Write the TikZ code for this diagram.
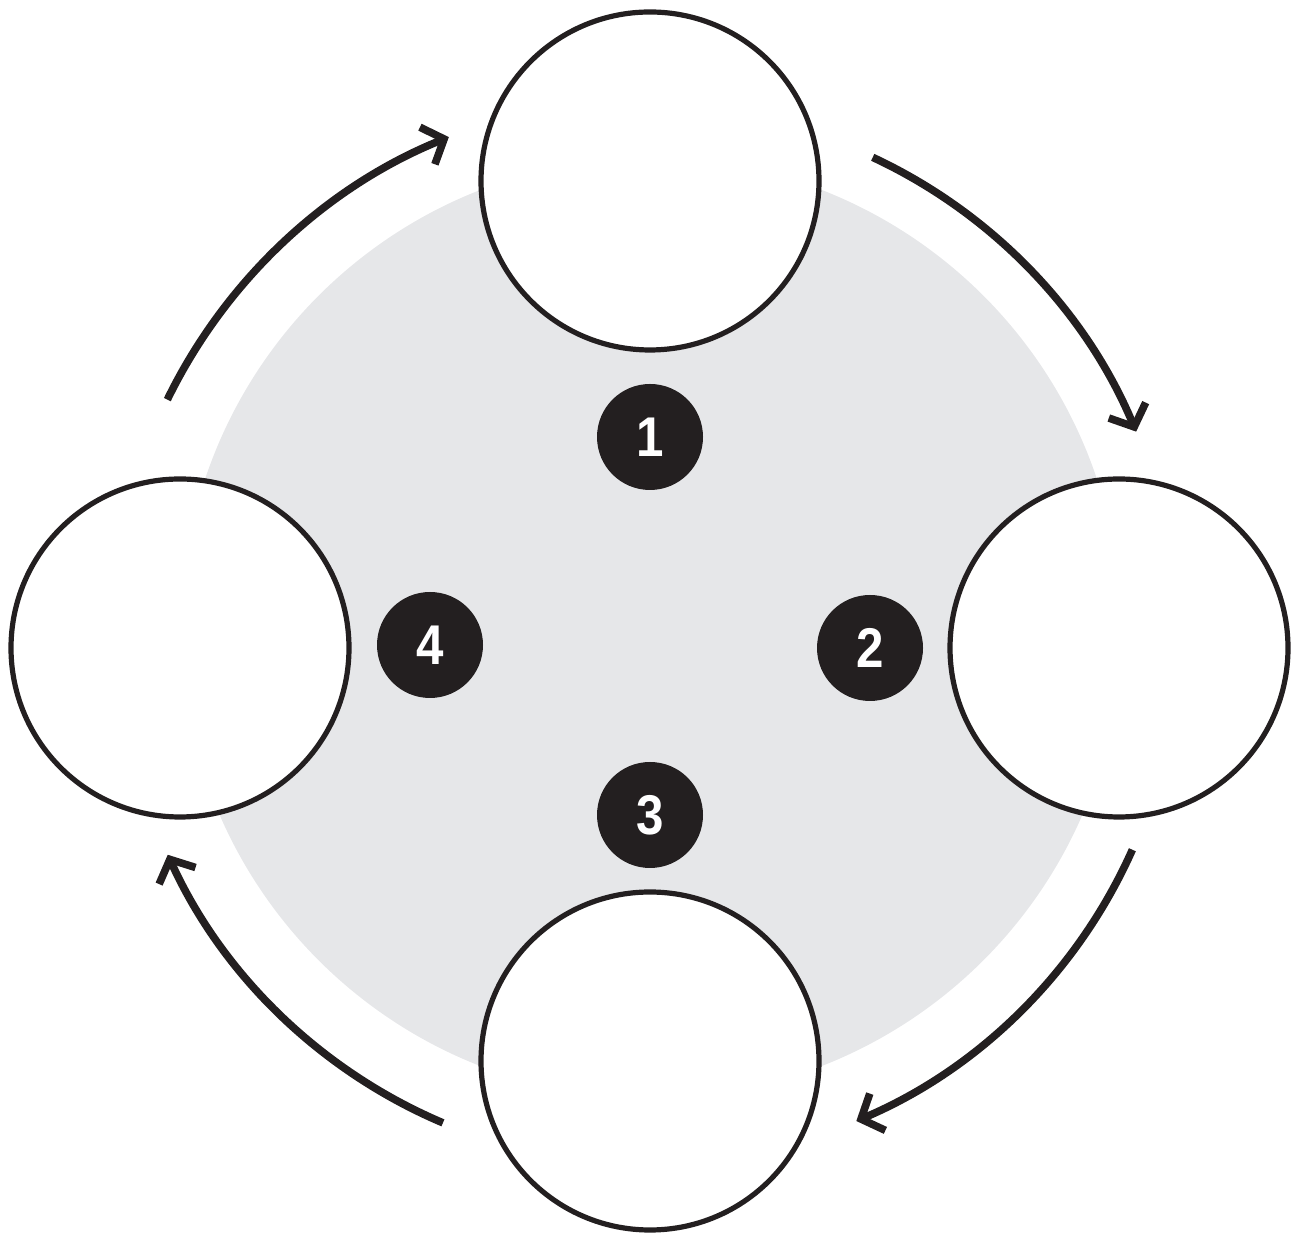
\documentclass[tikz,border=0pt]{standalone}
\usepackage{fontspec}
\newfontfamily\numfont[FakeStretch=0.88]{Liberation Sans Bold}
\usetikzlibrary{arrows.meta}
\definecolor{ink}{HTML}{231F20}
\definecolor{disc}{HTML}{E6E7E9}
\begin{document}
\begin{tikzpicture}[x=0.5pt,y=0.5pt,
  stage/.style={circle,draw=ink,line width=2.6pt,fill=white,minimum size=169pt,inner sep=0pt},
  badge/.style={circle,fill=ink,minimum size=53pt,inner sep=0pt,text=white,font=\numfont\fontsize{28}{28}\selectfont},
  flow/.style={draw=ink,line width=3.8pt,-{Straight Barb[length=9pt,width=20pt]}}]
\useasboundingbox (0,0) rectangle (1294,1235);
% background disc
\node[circle,fill=disc,minimum size=470pt,inner sep=0pt] (bg) at (651,607) {};
% stages
\node[stage] (top) at (650,1054) {};
\node[stage] (right) at (1119,587) {};
\node[stage] (left) at (180,587) {};
\node[stage] (bottom) at (650,174) {};
% badges
\node[badge] (b1) at (650,798) {1};
\node[badge] (b2) at (870,587) {2};
\node[badge] (b3) at (650,420) {3};
\node[badge] (b4) at (430,590) {4};
% cycle arrows
\coordinate (c) at (650,600);
\draw[flow] (c) ++(154:537) arc[start angle=154,end angle=112,radius=537];
\draw[flow] (c) ++(65:527) arc[start angle=65,end angle=22.7,radius=527];
\draw[flow] (c) ++(-24:528) arc[start angle=-24,end angle=-67,radius=528];
\draw[flow] (c) ++(247:530) arc[start angle=247,end angle=204.5,radius=530];
\end{tikzpicture}
\end{document}
